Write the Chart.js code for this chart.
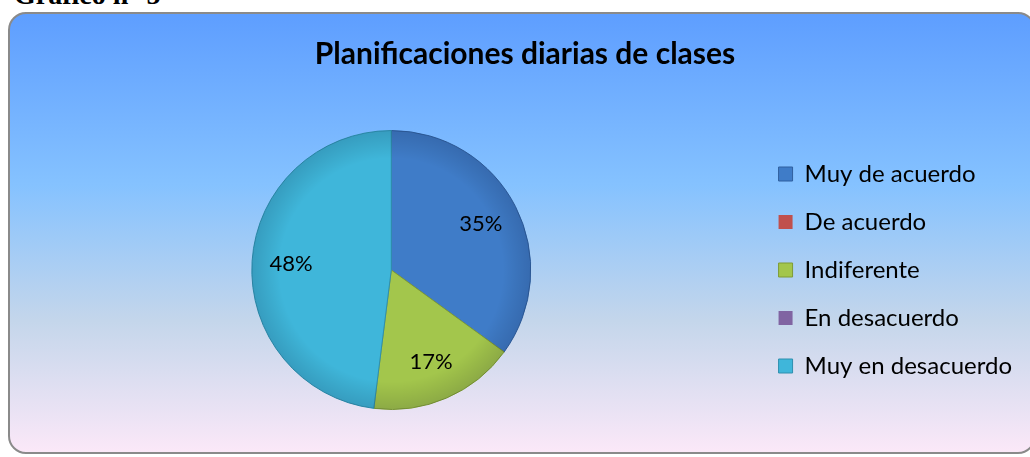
<!DOCTYPE html>
<html>
<head>
<meta charset="utf-8">
<script src="https://cdn.jsdelivr.net/npm/chart.js@4"></script>
<style>
  html, body { margin: 0; padding: 0; background: #fff; width: 1030px; height: 457px; overflow: hidden; }
  #heading { position: absolute; left: 14px; top: -19.5px; font: bold 28px "Liberation Serif", serif; line-height: 28px; color: #000; white-space: nowrap; }
  #box {
    position: absolute; left: 8px; top: 12px; width: 1028px; height: 442px;
    border: 2px solid #8a8a8a; border-radius: 18px; box-sizing: border-box;
    background: linear-gradient(to bottom, #5e9eff 0%, #85c2ff 39%, #c4d6eb 70%, #fbe8f8 100%);
  }
  #chart { position: absolute; left: 0; top: 0; }
</style>
</head>
<body>
<div id="heading">Gráfico n° 5</div>
<div id="box"></div>
<canvas id="chart" width="1030" height="457"></canvas>
<script>
// Gráfico n° 5 — planificaciones diarias de clases (porcentajes)
const titleText = "Planificaciones diarias de clases";
const categories = ["Muy de acuerdo", "De acuerdo", "Indiferente", "En desacuerdo", "Muy en desacuerdo"];
const percents = [35, 0, 17, 0, 48];
const sliceColors = ["#3f7cc8", "#c0504d", "#a3c64c", "#8064a2", "#3fb6da"];
const sliceBorders = ["#2f5f9e", "#943c3a", "#7e9b35", "#5f4a7c", "#2e8fae"];

const FONT = "Lato, 'Open Sans', sans-serif";

// percentage labels inside each slice
const sliceLabels = {
  id: "sliceLabels",
  afterDatasetsDraw(chart) {
    const { ctx } = chart;
    const meta = chart.getDatasetMeta(0);
    ctx.save();
    ctx.font = `22px ${FONT}`;
    ctx.fillStyle = "#000";
    ctx.textAlign = "center";
    ctx.textBaseline = "middle";
    meta.data.forEach((arc, i) => {
      const v = percents[i];
      if (!v) return;
      const { x, y, startAngle, endAngle, outerRadius } = arc.getProps(["x", "y", "startAngle", "endAngle", "outerRadius"], true);
      const mid = (startAngle + endAngle) / 2;
      const r = outerRadius * 0.72;
      ctx.fillText(v + "%", x + Math.cos(mid) * r, y + Math.sin(mid) * r);
    });
    ctx.restore();
  },
};

// soft edge shading, like the bevelled office pie
const pieShade = {
  id: "pieShade",
  afterDatasetsDraw(chart) {
    const arc = chart.getDatasetMeta(0).data[0];
    if (!arc) return;
    const { x, y, outerRadius } = arc.getProps(["x", "y", "outerRadius"], true);
    const ctx = chart.ctx;
    const g = ctx.createRadialGradient(x, y, outerRadius * 0.8, x, y, outerRadius);
    g.addColorStop(0, "rgba(0,0,0,0)");
    g.addColorStop(1, "rgba(0,0,30,0.14)");
    ctx.save();
    ctx.beginPath();
    ctx.arc(x, y, outerRadius, 0, Math.PI * 2);
    ctx.fillStyle = g;
    ctx.fill();
    ctx.restore();
  },
};

new Chart(document.getElementById("chart"), {
  type: "pie",
  data: {
    labels: categories,
    datasets: [{
      data: percents,
      backgroundColor: sliceColors,
      borderColor: sliceBorders,
      borderWidth: percents.map((v) => (v ? 1 : 0)),
    }],
  },
  options: {
    responsive: false,
    animation: false,
    layout: { padding: { left: 28, right: 8, top: 0, bottom: 47 } },
    plugins: {
      title: {
        display: true,
        text: titleText,
        color: "#000",
        font: { family: FONT, size: 30, weight: "bold" },
        padding: { top: 36, bottom: 58 },
      },
      legend: {
        position: "right",
        fullSize: false,
        labels: {
          color: "#000",
          font: { family: FONT, size: 24 },
          boxWidth: 14,
          boxHeight: 14,
          padding: 24,
        },
      },
      tooltip: { enabled: false },
    },
  },
  plugins: [pieShade, sliceLabels],
});
</script>
</body>
</html>
